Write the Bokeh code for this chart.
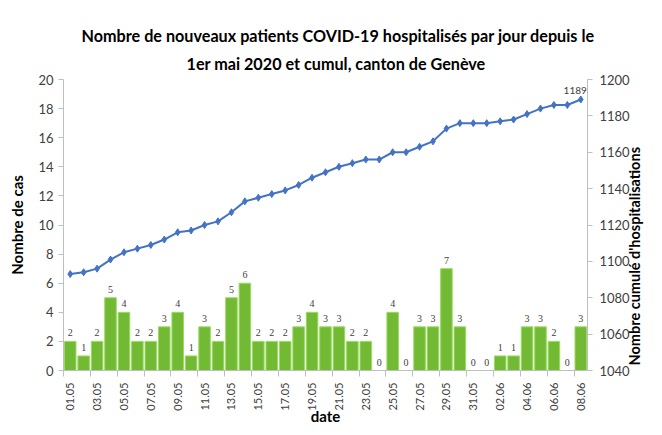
import math
from bokeh.plotting import figure
from bokeh.models import (ColumnDataSource, Range1d, LinearAxis, FixedTicker,
                          LabelSet, Label, Title)
from bokeh.embed import file_html
from bokeh.resources import INLINE

dates = ["01.05", "02.05", "03.05", "04.05", "05.05", "06.05", "07.05", "08.05", "09.05", "10.05",
         "11.05", "12.05", "13.05", "14.05", "15.05", "16.05", "17.05", "18.05", "19.05", "20.05",
         "21.05", "22.05", "23.05", "24.05", "25.05", "26.05", "27.05", "28.05", "29.05", "30.05",
         "31.05", "01.06", "02.06", "03.06", "04.06", "05.06", "06.06", "07.06", "08.06"]
new_cases = [2, 1, 2, 5, 4, 2, 2, 3, 4, 1,
             3, 2, 5, 6, 2, 2, 2, 3, 4, 3,
             3, 2, 2, 0, 4, 0, 3, 3, 7, 3,
             0, 0, 1, 1, 3, 3, 2, 0, 3]
cumulative = [1093, 1094, 1096, 1101, 1105, 1107, 1109, 1112, 1116, 1117,
              1120, 1122, 1127, 1133, 1135, 1137, 1139, 1142, 1146, 1149,
              1152, 1154, 1156, 1156, 1160, 1160, 1163, 1166, 1173, 1176,
              1176, 1176, 1177, 1178, 1181, 1184, 1186, 1186, 1189]
left_ticks = [0, 2, 4, 6, 8, 10, 12, 14, 16, 18, 20]
right_ticks = [1040, 1060, 1080, 1100, 1120, 1140, 1160, 1180, 1200]
right_title = "Nombre cumulé  d'hospitalisations"

FONT = "Lato"
TXT = "#404040"

xs = list(range(1, len(dates) + 1))
src = ColumnDataSource(dict(x=xs, v=new_cases, lab=[str(v) for v in new_cases], c=cumulative))

p = figure(width=654, height=427, output_backend="svg", toolbar_location=None,
           x_range=Range1d(0.5, len(dates) + 0.5), y_range=Range1d(0, 20),
           min_border_left=63, min_border_right=62, min_border_bottom=50, min_border_top=79)
p.extra_y_ranges = {"cum": Range1d(1040, 1200)}
p.xgrid.visible = False
p.ygrid.visible = False
p.outline_line_color = None
p.background_fill_color = "white"
p.border_fill_color = "white"

p.vbar(x="x", top="v", width=0.86, source=src, fill_color="#72BA34",
       line_color="#9BDA63", line_width=1)
p.line(x="x", y="c", source=src, y_range_name="cum", line_color="#4472C4", line_width=2)
p.scatter(x="x", y="c", source=src, y_range_name="cum", marker="diamond", size=7,
          fill_color="#4472C4", line_color="#4472C4")

p.add_layout(LabelSet(x="x", y="v", text="lab", source=src, text_align="center",
                      text_baseline="bottom", y_offset=5, text_font_size="10px",
                      text_color=TXT, text_font=FONT))
p.add_layout(Label(x=len(dates), y=cumulative[-1], y_range_name="cum", text="1189",
                   text_align="right", text_baseline="bottom", x_offset=6, y_offset=6,
                   text_font_size="10px", text_color=TXT, text_font=FONT))


def style_label(ax):
    ax.axis_label_text_font = FONT
    ax.axis_label_text_font_size = "15px"
    ax.axis_label_text_font_style = "bold"
    ax.axis_label_text_color = "#000000"


# x axis
xa = p.xaxis[0]
xa.ticker = FixedTicker(ticks=xs[::2], minor_ticks=[i + 0.5 for i in range(0, len(dates), 2)])
xa.major_label_overrides = {x: d for x, d in zip(xs, dates)}
xa.major_label_orientation = math.pi / 2
xa.major_tick_line_color = None
xa.major_tick_out = 0
xa.major_tick_in = 0
xa.minor_tick_out = 6
xa.minor_tick_in = 0
xa.minor_tick_line_color = "#bfbfbf"
xa.axis_line_color = "#bfbfbf"
xa.major_label_standoff = 6
xa.major_label_text_font = FONT
xa.major_label_text_font_size = "11px"
xa.major_label_text_color = TXT
xa.axis_label = "date"
xa.axis_label_standoff = -7
style_label(xa)

# left axis
ya = p.yaxis[0]
ya.ticker = FixedTicker(ticks=left_ticks)
ya.minor_tick_line_color = None
ya.major_tick_out = 5
ya.major_tick_in = 0
ya.major_tick_line_color = "#bfbfbf"
ya.axis_line_color = "#bfbfbf"
ya.major_label_standoff = 5
ya.major_label_text_font = FONT
ya.major_label_text_font_size = "13px"
ya.major_label_text_color = TXT
ya.axis_label = "Nombre de cas"
ya.axis_label_standoff = 9
style_label(ya)

# right axis
ra = LinearAxis(y_range_name="cum", ticker=FixedTicker(ticks=right_ticks))
ra.minor_tick_line_color = None
ra.major_tick_out = 5
ra.major_tick_in = 0
ra.major_tick_line_color = "#bfbfbf"
ra.axis_line_color = "#bfbfbf"
ra.major_label_standoff = 7
ra.major_label_text_font = FONT
ra.major_label_text_font_size = "13px"
ra.major_label_text_color = TXT
p.add_layout(ra, "right")

# right axis title, drawn as the single tick label of a bare axis (reads bottom to top)
TITLE_AT = 1200
ta = LinearAxis(y_range_name="cum", ticker=FixedTicker(ticks=[TITLE_AT]))
ta.major_label_overrides = {TITLE_AT: right_title}
ta.major_label_orientation = math.pi / 2
ta.axis_line_color = None
ta.major_tick_line_color = None
ta.minor_tick_line_color = None
ta.major_tick_out = 0
ta.major_tick_in = 0
ta.major_label_standoff = 2
ta.major_label_text_font = FONT
ta.major_label_text_font_size = "14.5px"
ta.major_label_text_font_style = "bold"
ta.major_label_text_color = "#000000"
p.add_layout(ta, "right")

# titles (first added is nearest to the plot)
p.add_layout(Title(text="1er mai 2020 et cumul, canton de Genève", align="left",
                   text_font=FONT, text_font_size="16.2px", text_font_style="bold",
                   text_color="#000000", standoff=13, offset=123), "above")
p.add_layout(Title(text="Nombre de nouveaux patients COVID-19 hospitalisés par jour depuis le",
                   align="left", text_font=FONT, text_font_size="16.2px",
                   text_font_style="bold", text_color="#000000", standoff=2, offset=18), "above")

open("out.html", "w").write(file_html(p, INLINE))
